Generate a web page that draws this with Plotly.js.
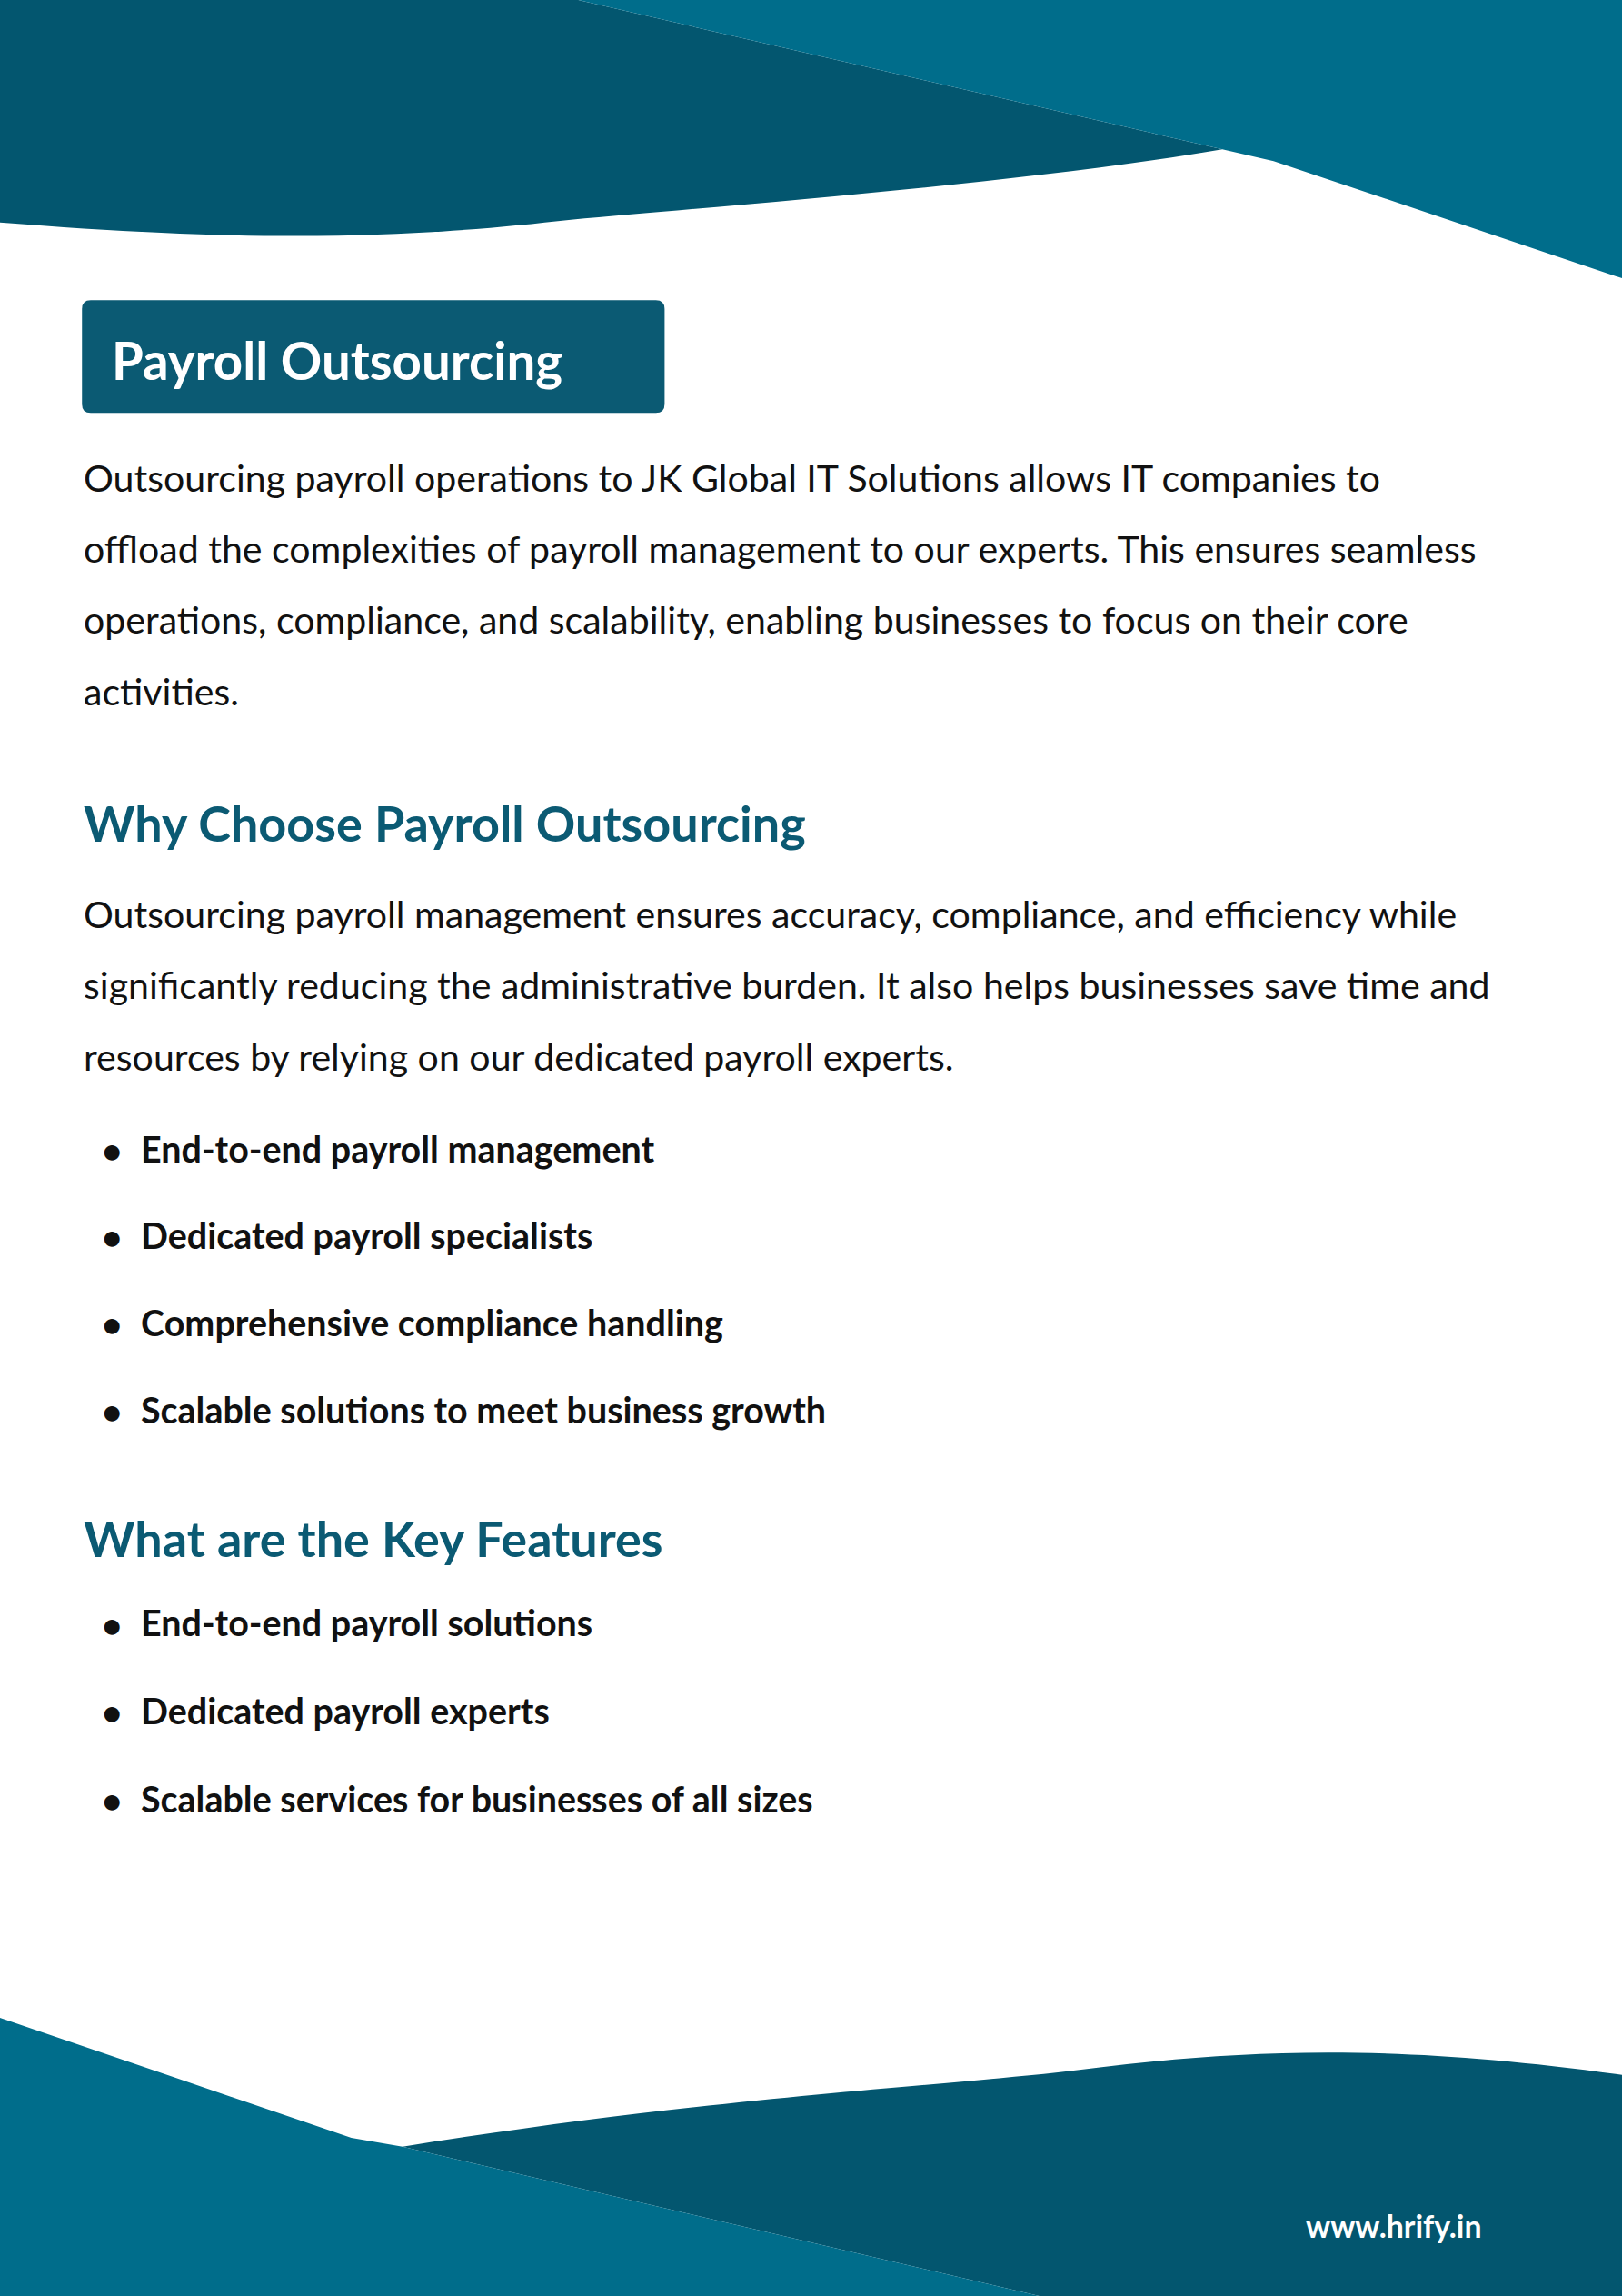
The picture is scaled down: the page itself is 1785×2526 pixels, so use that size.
<!DOCTYPE html>
<html><head><meta charset="utf-8">
<script src="https://cdn.plot.ly/plotly-3.0.1.min.js"></script>
<style>html,body{margin:0;padding:0;background:#fff}#c{width:1785px;height:2526px}</style>
</head><body><div id="c"></div>
<script>
const titleText = "Payroll Outsourcing";
const introLines = [
 "Outsourcing payroll operations to JK Global IT Solutions allows IT companies to",
 "offload the complexities of payroll management to our experts. This ensures seamless",
 "operations, compliance, and scalability, enabling businesses to focus on their core",
 "activities."];
const heading1 = "Why Choose Payroll Outsourcing";
const whyLines = [
 "Outsourcing payroll management ensures accuracy, compliance, and efficiency while",
 "significantly reducing the administrative burden. It also helps businesses save time and",
 "resources by relying on our dedicated payroll experts."];
const whyBullets = ["End-to-end payroll management","Dedicated payroll specialists","Comprehensive compliance handling","Scalable solutions to meet business growth"];
const heading2 = "What are the Key Features";
const featureBullets = ["End-to-end payroll solutions","Dedicated payroll experts","Scalable services for businesses of all sizes"];
const footer = "www.hrify.in";

const S = 1785/1108;
const DARK = "#03566f", LIGHT = "#006d8b", HEAD = "#0b5a73";
const ann = [];
function t(x,y,txt,size,color,weight,anchor){
  ann.push({x:x,y:y,xref:'x',yref:'y',text:weight>=700?'<b>'+txt+'</b>':txt,showarrow:false,xanchor:anchor||'left',yanchor:'middle',
    font:{family:'Lato, sans-serif',size:size*S,color:color}});
}
t(75,246,titleText,35,'#fff',700);
introLines.forEach((l,i)=>t(56,326+i*48.5,l,25.5,'#111'));
t(56,562,heading1,33.5,HEAD,700);
whyLines.forEach((l,i)=>t(56,624+i*48.5,l,25.5,'#111'));
whyBullets.forEach((l,i)=>{t(68,785+i*59.5,'•',24,'#111',700);t(95,784+i*59.5,l,24.5,'#111',700);});
t(56,1050,heading2,33.5,HEAD,700);
featureBullets.forEach((l,i)=>{t(68,1109+i*60,'•',24,'#111',700);t(95,1108+i*60,l,24.5,'#111',700);});
t(1013,1520,footer,21,'#fff',700,'right');

const shapes = [
 {type:'path',path:'M0,0 L395,0 L835,102 C700,125 500,140 390,150 C300,160 200,168 0,152 Z',fillcolor:DARK,line:{width:0},layer:'below'},
 {type:'path',path:'M395,0 L1108,0 L1108,190 L870,110 L835,102 Z',fillcolor:LIGHT,line:{width:0},layer:'below'},
 {type:'path',path:'M275,1466 C500,1430 650,1425 750,1412 C850,1400 950,1395 1108,1417 L1108,1568 L710,1568 Z',fillcolor:DARK,line:{width:0},layer:'below'},
 {type:'path',path:'M0,1378 L240,1460 L275,1466 L710,1568 L0,1568 Z',fillcolor:LIGHT,line:{width:0},layer:'below'},
 {type:'path',path:'M62,205 L448,205 Q454,205 454,211 L454,276 Q454,282 448,282 L62,282 Q56,282 56,276 L56,211 Q56,205 62,205 Z',fillcolor:HEAD,line:{width:0},layer:'below'}
];
Plotly.newPlot('c',[{x:[0],y:[0],mode:'markers',marker:{opacity:0},hoverinfo:'skip',showlegend:false}],{
 width:1785,height:2526,margin:{l:0,r:0,t:0,b:0},paper_bgcolor:'#fff',plot_bgcolor:'#fff',
 xaxis:{range:[0,1108],visible:false,fixedrange:true},
 yaxis:{range:[1568,0],visible:false,fixedrange:true},
 shapes:shapes,annotations:ann,showlegend:false},{staticPlot:true});
</script></body></html>
